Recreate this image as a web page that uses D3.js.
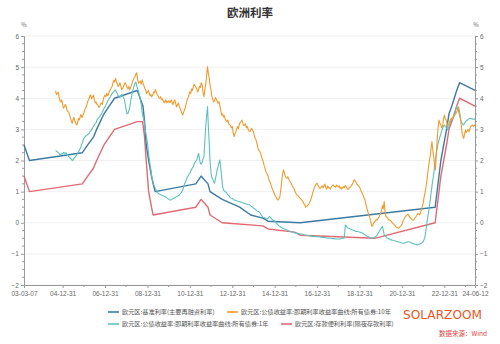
<!DOCTYPE html>
<html><head><meta charset="utf-8">
<script src="https://cdn.jsdelivr.net/npm/d3@7"></script>
<style>
html,body{margin:0;padding:0;background:#fff;}
svg{display:block;font-family:"Noto Sans CJK SC","Noto Sans",sans-serif;}
</style></head>
<body>
<svg id="chart" width="500" height="344"></svg>
<script>
// ---------------- DATA ----------------
const title = "欧洲利率";
const seriesNames = [
  "欧元区:基准利率(主要再融资利率)",
  "欧元区:公债收益率:即期利率收益率曲线:所有债券:10年",
  "欧元区:公债收益率:即期利率收益率曲线:所有债券:1年",
  "欧元区:存款便利利率(隔夜存款利率)"
];
const seriesColors = ["#3d7aa3", "#f39a2a", "#5cc0c0", "#e06b73"];
const xTickLabels = ["03-03-07","04-12-31","06-12-31","08-12-31","10-12-31","12-12-31","14-12-31","16-12-31","18-12-31","20-12-31","22-12-31","24-06-12"];
const yTicks = [-2,-1,0,1,2,3,4,5,6];

// policy rates (change dates)
const mroDates = ["2003-03-07","2003-06-09","2005-12-06","2006-03-08","2006-06-15","2006-08-09","2006-10-11","2006-12-13","2007-03-14","2007-06-13","2008-07-09","2008-10-15","2008-11-12","2008-12-10","2009-01-21","2009-03-11","2009-04-08","2009-05-13","2011-04-13","2011-07-13","2011-11-09","2011-12-14","2012-07-11","2013-05-08","2013-11-13","2014-06-11","2014-09-10","2016-03-16","2022-07-27","2022-09-14","2022-11-02","2022-12-21","2023-02-08","2023-03-22","2023-05-10","2023-06-21","2023-08-02","2023-09-20","2024-06-12"];
const mroValues = [2.5,2.0,2.25,2.5,2.75,3.0,3.25,3.5,3.75,4.0,4.25,3.75,3.25,2.5,2.0,1.5,1.25,1.0,1.25,1.5,1.25,1.0,0.75,0.5,0.25,0.15,0.05,0.0,0.5,1.25,2.0,2.5,3.0,3.5,3.75,4.0,4.25,4.5,4.25];

const depDates = ["2003-03-07","2003-06-09","2005-12-06","2006-03-08","2006-06-15","2006-08-09","2006-10-11","2006-12-13","2007-03-14","2007-06-13","2008-07-09","2008-10-09","2008-11-12","2008-12-10","2009-01-21","2009-03-11","2009-04-08","2011-04-13","2011-07-13","2011-11-09","2011-12-14","2012-07-11","2014-06-11","2014-09-10","2015-12-09","2016-03-16","2019-09-18","2022-07-27","2022-09-14","2022-11-02","2022-12-21","2023-02-08","2023-03-22","2023-05-10","2023-06-21","2023-08-02","2023-09-20","2024-06-12"];
const depValues = [1.5,1.0,1.25,1.5,1.75,2.0,2.25,2.5,2.75,3.0,3.25,3.25,2.75,2.0,1.0,0.5,0.25,0.5,0.75,0.5,0.25,0.0,-0.1,-0.2,-0.3,-0.4,-0.5,0.0,0.75,1.5,2.0,2.5,3.0,3.25,3.5,3.75,4.0,3.75];

// bond yields: start-of-month values from 2004-09 to 2024-06, and mid-month values
const bondStart = "2004-09";
const y10Values = [
 4.24,4.15,4.02,3.88,
 3.80,3.72,3.76,3.58,3.45,3.25,3.32,3.26,3.14,3.35,3.42,3.38,
 3.52,3.68,3.85,4.00,4.10,4.05,3.95,3.88,3.78,3.73,3.85,3.95,
 4.10,4.16,4.12,4.28,4.37,4.58,4.64,4.45,4.43,4.38,4.32,4.45,
 4.43,4.30,4.27,4.42,4.59,4.70,4.82,4.48,4.55,4.59,4.40,4.27,
 4.20,4.16,4.12,4.10,4.18,4.21,4.08,4.00,3.95,3.92,3.89,3.85,
 3.92,3.89,3.86,3.90,3.84,3.78,3.75,3.60,3.46,3.62,3.84,4.02,
 4.21,4.30,4.37,4.40,4.30,4.27,4.35,4.43,4.05,4.45,5.02,4.64,
 4.25,3.95,3.92,3.98,3.84,3.75,3.46,3.40,3.32,3.25,3.18,3.12,
 3.09,2.77,2.90,3.09,3.15,3.25,3.20,3.14,3.05,3.00,2.93,3.03,
 2.92,2.70,2.55,2.34,2.25,2.05,1.85,1.65,1.55,1.35,1.20,1.05,
 0.90,0.80,0.73,0.85,1.30,1.70,1.50,1.43,1.40,1.30,1.18,1.10,
 0.95,0.88,0.82,0.75,0.68,0.58,0.52,0.58,0.68,0.85,1.05,1.20,
 1.27,1.15,1.11,1.18,1.21,1.12,1.18,1.11,1.15,1.22,1.16,1.21,
 1.15,1.11,1.08,1.16,1.20,1.10,1.11,1.15,1.25,1.38,1.30,1.21,
 1.15,1.00,0.89,0.75,0.52,0.30,0.14,-0.12,-0.02,0.05,0.09,0.18,
 0.30,0.55,0.68,0.20,0.15,0.09,0.05,-0.02,-0.08,-0.15,-0.18,-0.12,
 -0.05,0.10,0.20,0.25,0.22,0.15,0.09,0.12,0.20,0.30,0.25,0.40,
 0.62,0.95,1.27,1.75,2.12,2.61,2.12,1.70,2.71,3.30,3.15,3.09,
 3.46,3.30,3.09,3.25,3.36,3.40,3.46,3.55,3.73,3.46,2.90,2.71,
 2.98,2.95,2.93,3.09,3.14,3.15
];
const y10Mid = [
 4.12,4.20,3.92,3.95,
 3.68,3.80,3.62,3.55,3.38,3.20,3.38,3.20,3.22,3.30,3.48,3.45,
 3.62,3.75,3.92,4.08,3.98,4.10,3.85,3.80,3.70,3.82,3.80,4.05,
 4.05,4.08,4.22,4.32,4.48,4.52,4.55,4.38,4.50,4.28,4.38,4.50,
 4.35,4.38,4.35,4.50,4.65,4.78,4.60,4.52,4.45,4.50,4.32,4.15,
 4.25,4.08,4.05,4.20,4.28,4.12,4.02,4.05,3.98,3.85,3.95,3.90,
 3.85,3.95,3.80,3.95,3.72,3.85,3.68,3.52,3.55,3.72,3.95,4.10,
 4.15,4.25,4.45,4.35,4.20,4.38,4.50,4.20,4.25,4.70,4.80,4.42,
 4.05,3.88,4.02,3.90,3.90,3.62,3.50,3.45,3.28,3.30,3.15,3.05,
 2.90,2.85,3.00,3.02,3.22,3.30,3.12,3.18,3.10,2.95,2.98,2.98,
 2.80,2.65,2.42,2.30,2.15,1.98,1.78,1.60,1.45,1.30,1.12,0.98,
 0.85,0.76,0.78,1.05,1.55,1.62,1.45,1.48,1.35,1.25,1.14,1.02,
 0.90,0.85,0.78,0.72,0.62,0.50,0.55,0.62,0.75,0.95,1.15,1.25,
 1.20,1.10,1.16,1.12,1.24,1.08,1.14,1.08,1.18,1.18,1.14,1.18,
 1.19,1.14,1.12,1.13,1.16,1.06,1.14,1.20,1.30,1.35,1.25,1.18,
 1.08,0.95,0.82,0.65,0.42,0.22,0.02,-0.08,0.03,0.10,0.14,0.24,
 0.40,0.45,0.35,0.18,0.10,0.07,0.01,-0.05,-0.12,-0.16,-0.15,-0.10,
 0.03,0.16,0.22,0.28,0.18,0.12,0.08,0.16,0.24,0.28,0.32,0.50,
 0.80,1.10,1.50,1.95,2.35,2.35,1.90,2.20,3.05,3.20,3.05,3.30,
 3.35,3.20,3.15,3.30,3.32,3.45,3.50,3.62,3.60,3.20,2.80,2.85,
 2.90,3.00,3.02,3.12,3.10
];
const y1Values = [
 2.32,2.28,2.23,2.20,
 2.21,2.24,2.25,2.18,2.10,2.05,2.02,2.10,2.18,2.28,2.39,2.55,
 2.71,2.78,2.82,2.87,2.95,3.05,3.14,3.22,3.35,3.41,3.50,3.62,
 3.72,3.85,3.95,4.05,4.15,4.21,4.27,4.15,4.05,4.08,4.10,3.95,
 3.62,3.52,3.70,4.05,4.30,4.48,4.40,4.21,3.95,3.55,3.30,2.90,
 2.55,2.05,1.70,1.35,1.16,1.05,0.95,0.92,0.89,0.87,0.84,0.80,
 0.76,0.73,0.75,0.79,0.82,0.86,0.89,0.95,1.05,1.25,1.38,1.50,
 1.59,1.72,1.80,1.95,2.02,2.23,1.91,1.95,2.12,3.09,3.73,2.55,
 1.59,1.40,1.27,1.55,1.80,2.02,1.48,1.05,1.00,0.95,0.88,0.80,
 0.78,0.73,0.72,0.70,0.68,0.66,0.64,0.62,0.60,0.58,0.57,0.52,
 0.47,0.44,0.38,0.36,0.30,0.20,0.17,0.14,0.12,0.20,0.15,0.09,
 0.05,-0.02,-0.07,-0.12,-0.15,-0.18,-0.20,-0.23,-0.26,-0.28,-0.30,-0.32,
 -0.33,-0.34,-0.35,-0.36,-0.37,-0.39,-0.40,-0.41,-0.42,-0.43,-0.44,-0.44,
 -0.45,-0.45,-0.46,-0.47,-0.47,-0.48,-0.49,-0.50,-0.50,-0.51,-0.51,-0.52,
 -0.52,-0.52,-0.50,-0.50,-0.07,-0.15,-0.18,-0.20,-0.23,-0.25,-0.28,-0.28,
 -0.30,-0.32,-0.34,-0.38,-0.42,-0.45,-0.48,-0.50,-0.48,-0.45,-0.40,-0.30,
 -0.20,-0.12,-0.39,-0.45,-0.50,-0.52,-0.55,-0.56,-0.58,-0.60,-0.61,-0.63,
 -0.65,-0.66,-0.64,-0.62,-0.61,-0.63,-0.66,-0.68,-0.70,-0.71,-0.68,-0.66,
 -0.61,-0.45,-0.10,0.30,0.70,1.16,1.55,2.02,2.40,2.66,2.85,3.03,
 3.14,3.06,2.98,3.15,3.30,3.36,3.50,3.73,3.60,3.36,3.20,3.14,
 3.25,3.30,3.34,3.36,3.33,3.33
];
const y1Mid = [
 2.30,2.25,2.19,2.22,
 2.26,2.22,2.20,2.12,2.06,2.00,2.07,2.13,2.24,2.33,2.46,2.62,
 2.75,2.80,2.85,2.92,3.00,3.10,3.18,3.30,3.38,3.46,3.55,3.68,
 3.78,3.90,4.00,4.10,4.18,4.25,4.20,4.08,4.02,4.12,4.02,3.80,
 3.50,3.60,3.88,4.18,4.40,4.52,4.30,4.10,3.80,3.40,3.10,2.75,
 2.30,1.85,1.50,1.25,1.10,0.98,0.93,0.90,0.88,0.85,0.82,0.78,
 0.74,0.74,0.77,0.80,0.84,0.87,0.92,1.00,1.15,1.30,1.45,1.55,
 1.65,1.78,1.88,1.98,2.12,2.05,1.88,2.05,2.60,3.40,3.10,1.95,
 1.45,1.32,1.40,1.70,1.92,1.75,1.20,1.02,0.98,0.90,0.84,0.79,
 0.75,0.72,0.71,0.69,0.67,0.65,0.63,0.61,0.59,0.58,0.54,0.50,
 0.45,0.40,0.37,0.33,0.25,0.18,0.16,0.13,0.16,0.18,0.12,0.07,
 0.02,-0.05,-0.10,-0.14,-0.17,-0.19,-0.22,-0.25,-0.27,-0.29,-0.31,-0.33,
 -0.34,-0.35,-0.36,-0.37,-0.38,-0.40,-0.41,-0.42,-0.43,-0.44,-0.44,-0.45,
 -0.45,-0.46,-0.47,-0.47,-0.48,-0.49,-0.50,-0.50,-0.51,-0.51,-0.52,-0.52,
 -0.52,-0.51,-0.50,-0.48,-0.10,-0.17,-0.19,-0.22,-0.24,-0.27,-0.28,-0.29,
 -0.31,-0.33,-0.36,-0.40,-0.44,-0.47,-0.49,-0.49,-0.46,-0.43,-0.35,-0.25,
 -0.15,-0.25,-0.42,-0.48,-0.51,-0.54,-0.56,-0.57,-0.59,-0.61,-0.62,-0.64,
 -0.66,-0.65,-0.63,-0.61,-0.62,-0.65,-0.67,-0.69,-0.71,-0.70,-0.67,-0.64,
 -0.55,-0.28,0.10,0.50,0.92,1.35,1.78,2.22,2.55,2.75,2.95,3.10,
 3.10,3.02,3.05,3.22,3.33,3.42,3.62,3.68,3.48,3.28,3.16,3.20,
 3.28,3.32,3.35,3.34,3.33
];

// ---------------- CHART ----------------
const svg = d3.select("#chart");
const parseD = d3.timeParse("%Y-%m-%d");
const parseM = d3.timeParse("%Y-%m");
const parseTick = d3.timeParse("%y-%m-%d");

const xStart = parseD("2003-03-07"), xEnd = parseD("2024-06-12");
const x = d3.scaleTime().domain([xStart, xEnd]).range([24, 475]);
const y = d3.scaleLinear().domain([-2, 6]).range([285, 36]);

function bondSeries(monthVals, midVals) {
  const pts = [];
  monthVals.forEach((v, i) => {
    let d = d3.timeMonth.offset(parseM(bondStart), i);
    if (d > xEnd) d = xEnd;
    pts.push([d, v]);
    if (i < midVals.length) pts.push([d3.timeDay.offset(d, 14), midVals[i]]);
  });
  if (pts[pts.length - 1][0] < xEnd) pts[pts.length - 1][0] = xEnd;
  return pts.sort((a, b) => a[0] - b[0]);
}

const series = [
  mroDates.map((d, i) => [parseD(d), mroValues[i]]),
  bondSeries(y10Values, y10Mid),
  bondSeries(y1Values, y1Mid),
  depDates.map((d, i) => [parseD(d), depValues[i]])
];

// title
svg.append("text").attr("x", 250).attr("y", 16.5).attr("text-anchor", "middle")
  .attr("font-size", 11.5).attr("font-weight", "bold").attr("fill", "#333").text(title);

// gridlines
svg.append("g").selectAll("line").data(yTicks).join("line")
  .attr("x1", 24).attr("x2", 475).attr("y1", d => y(d)).attr("y2", d => y(d))
  .attr("stroke", "#f0f0f0").attr("stroke-width", 1);

const axisColor = "#999";
const labelColor = "#666";
function styleAxis(g) {
  g.select(".domain").attr("stroke", axisColor);
  g.selectAll(".tick line").attr("stroke", axisColor);
  g.selectAll("text").attr("fill", labelColor).attr("font-size", 6.5)
    .attr("font-family", "Liberation Sans, Arial, sans-serif");
}
const minorY = d3.range(-2, 6.001, 0.25).filter(v => Math.abs(v - Math.round(v)) > 0.01);

// left axis
const gl = svg.append("g").attr("transform", "translate(24,0)")
  .call(d3.axisLeft(y).tickValues(yTicks).tickSize(3).tickPadding(2).tickFormat(d3.format("d")));
styleAxis(gl);
gl.selectAll(".minor").data(minorY).join("line").attr("class", "minor")
  .attr("x1", -2).attr("x2", 0).attr("y1", d => y(d)).attr("y2", d => y(d)).attr("stroke", axisColor);
// right axis
const gr = svg.append("g").attr("transform", "translate(475,0)")
  .call(d3.axisRight(y).tickValues(yTicks).tickSize(3).tickPadding(2).tickFormat(d3.format("d")));
styleAxis(gr);
gr.selectAll(".minor").data(minorY).join("line").attr("class", "minor")
  .attr("x1", 0).attr("x2", 2).attr("y1", d => y(d)).attr("y2", d => y(d)).attr("stroke", axisColor);

// % labels
svg.append("text").attr("x", 24).attr("y", 27).attr("text-anchor", "middle")
  .attr("font-size", 6).attr("fill", labelColor).text("%");
svg.append("text").attr("x", 476).attr("y", 27).attr("text-anchor", "middle")
  .attr("font-size", 6).attr("fill", labelColor).text("%");

// bottom axis
const xTickDates = xTickLabels.map(s => parseTick(s));
const gb = svg.append("g").attr("transform", "translate(0,285)")
  .call(d3.axisBottom(x).tickValues(xTickDates).tickSize(3).tickPadding(3).tickFormat(d3.timeFormat("%y-%m-%d")));
styleAxis(gb);
const minorX = d3.range(2005, 2024, 2).map(yr => new Date(yr, 11, 31));
gb.selectAll(".minor").data(minorX).join("line").attr("class", "minor")
  .attr("x1", d => x(d)).attr("x2", d => x(d)).attr("y1", 0).attr("y2", 2).attr("stroke", axisColor);

// lines
const line = d3.line().x(d => x(d[0])).y(d => y(d[1]));
const drawOrder = [3, 0, 2, 1];
svg.append("g").selectAll("path").data(drawOrder).join("path")
  .attr("d", i => line(series[i]))
  .attr("fill", "none")
  .attr("stroke", i => seriesColors[i])
  .attr("stroke-width", i => (i === 1 || i === 2) ? 1.1 : 1.4)
  .attr("stroke-linejoin", "round");

// legend
const legendPos = [[108, 312], [227, 312], [108, 324], [281, 324]];
const lg = svg.append("g");
seriesNames.forEach((name, i) => {
  const [lx, ly] = legendPos[i];
  lg.append("line").attr("x1", lx).attr("x2", lx + 11).attr("y1", ly).attr("y2", ly)
    .attr("stroke", seriesColors[i]).attr("stroke-width", 1.6);
  lg.append("text").attr("x", lx + 14).attr("y", ly + 2.2).attr("font-size", 6.2)
    .attr("fill", "#555").text(name);
});

// branding
svg.append("text").attr("x", 403).attr("y", 319).attr("font-size", 12.5)
  .attr("font-family", "DejaVu Sans, sans-serif").attr("fill", "#e8581f")
  .attr("textLength", 79).attr("lengthAdjust", "spacingAndGlyphs").text("SOLARZOOM");
svg.append("text").attr("x", 487).attr("y", 336).attr("text-anchor", "end")
  .attr("font-size", 6.5).attr("fill", "#d9443c").text("数据来源：Wind");
</script>
</body></html>
